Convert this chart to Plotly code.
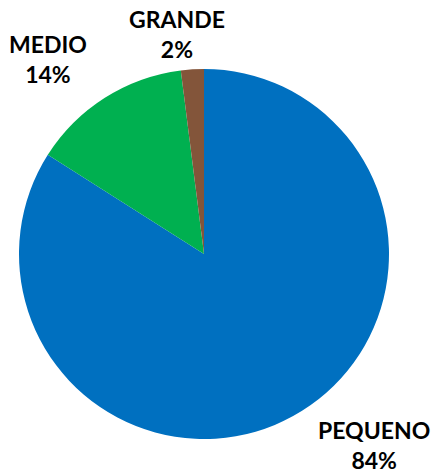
import plotly.graph_objects as go

labels = ["PEQUENO", "MEDIO", "GRANDE"]
values = [84, 14, 2]
colors = ["#0070C0", "#00B050", "#83553A"]

W, H = 433, 472
# label centres (page pixels) for annotations
label_pos = {"PEQUENO": (374, 445), "MEDIO": (48, 59), "GRANDE": (177, 34)}

total = sum(values)
fig = go.Figure(go.Pie(
    labels=labels, values=values, sort=False, direction="clockwise", rotation=0,
    marker=dict(colors=colors, line=dict(width=0)),
    textinfo="none", hoverinfo="label+percent",
    domain=dict(x=[19 / W, 389 / W], y=[1 - 439 / H, 1 - 69 / H]),
    showlegend=False,
))

for lab, val in zip(labels, values):
    px, py = label_pos[lab]
    fig.add_annotation(
        x=px / W, y=1 - py / H, xref="paper", yref="paper",
        text=f"<b>{lab}</b><br><b>{round(100 * val / total)}%</b>",
        showarrow=False, xanchor="center", yanchor="middle",
        font=dict(family="Lato", size=23, color="#000000"),
    )

fig.update_layout(
    width=W, height=H, margin=dict(l=0, r=0, t=0, b=0),
    paper_bgcolor="white", plot_bgcolor="white",
)
fig.write_html(
    "out.html",
    config={"displayModeBar": False},
    post_script="document.body.style.margin='0';document.body.style.overflow='hidden';",
)
